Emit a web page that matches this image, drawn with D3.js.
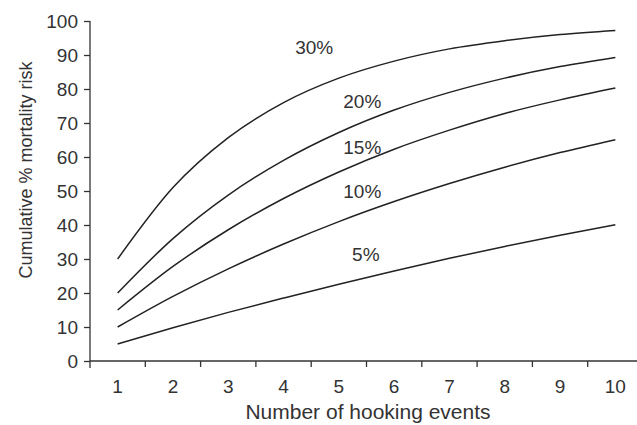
<!DOCTYPE html>
<html><head><meta charset="utf-8">
<script src="https://cdn.jsdelivr.net/npm/d3@7"></script>
<style>body{margin:0;background:#fff;} text{font-family:"Liberation Sans",Arial,sans-serif;fill:#333;}</style>
</head><body>
<svg id="c" width="637" height="425"></svg>
<script>
const events = [1,2,3,4,5,6,7,8,9,10];
const yTicks = [0,10,20,30,40,50,60,70,80,90,100];
const seriesNames = ["30%","20%","15%","10%","5%"];
const s30 = [30,51,65.7,76,83.2,88.2,91.8,94.2,96,97.2];
const s20 = [20,36,48.8,59,67.2,73.8,79,83.2,86.6,89.3];
const s15 = [15,27.8,38.6,47.8,55.6,62.3,67.9,72.8,76.8,80.3];
const s10 = [10,19,27.1,34.4,41,46.9,52.2,57,61.3,65.1];
const s5  = [5,9.8,14.3,18.5,22.6,26.5,30.2,33.7,37,40.1];
const seriesValues = [s30,s20,s15,s10,s5];
const labelPos = [[4.21,90.3],[5.08,74.4],[5.08,60.9],[5.08,47.9],[5.24,29.4]]; // label baseline anchor (event, %)

const svg = d3.select("#c");
const x = d3.scaleBand().domain(events).range([90,643]);
const y = d3.scaleLinear().domain([0,100]).range([361,21]);
const cx = d => x(d) + x.bandwidth()/2;

// y axis
const ya = svg.append("g").attr("transform","translate(90,0)")
  .call(d3.axisLeft(y).tickValues(yTicks).tickSize(6).tickSizeOuter(0));
ya.select(".domain").attr("stroke","#333").attr("stroke-width",1.3).attr("d","M0,21V368");
ya.selectAll(".tick line").attr("stroke","#333").attr("stroke-width",1.3);
ya.selectAll(".tick text").attr("font-size",19).attr("x",-12).attr("dy","0.36em").style("fill","#333");

// x axis: ticks at band boundaries
const xa = svg.append("g").attr("transform","translate(0,361)");
xa.append("line").attr("x1",90).attr("x2",637).attr("y1",0).attr("y2",0).attr("stroke","#333").attr("stroke-width",1.3);
xa.selectAll("line.t").data(events.slice(1)).join("line").attr("class","t")
  .attr("x1",d=>x(d)).attr("x2",d=>x(d)).attr("y1",0).attr("y2",6).attr("stroke","#333").attr("stroke-width",1.3);
xa.selectAll("text").data(events).join("text")
  .attr("x",d=>cx(d)).attr("y",32).attr("text-anchor","middle").attr("font-size",19).text(d=>d);

// titles
svg.append("text").attr("x",368).attr("y",419).attr("text-anchor","middle").attr("font-size",21).text("Number of hooking events");
svg.append("text").attr("transform","translate(32,170) rotate(-90)").attr("text-anchor","middle").attr("font-size",18).text("Cumulative % mortality risk");

// lines
const line = d3.line().x((d,i)=>cx(events[i])).y(d=>y(d)).curve(d3.curveMonotoneX);
svg.selectAll("path.s").data(seriesValues).join("path").attr("class","s")
  .attr("d",line).attr("fill","none").attr("stroke","#222").attr("stroke-width",1.5);

// labels
const lx = d3.scaleLinear().domain([1,10]).range([cx(1),cx(10)]);
svg.selectAll("text.lab").data(seriesNames).join("text").attr("class","lab")
  .attr("x",(d,i)=>lx(labelPos[i][0])).attr("y",(d,i)=>y(labelPos[i][1]))
  .attr("font-size",19).text(d=>d);
</script>
</body></html>
